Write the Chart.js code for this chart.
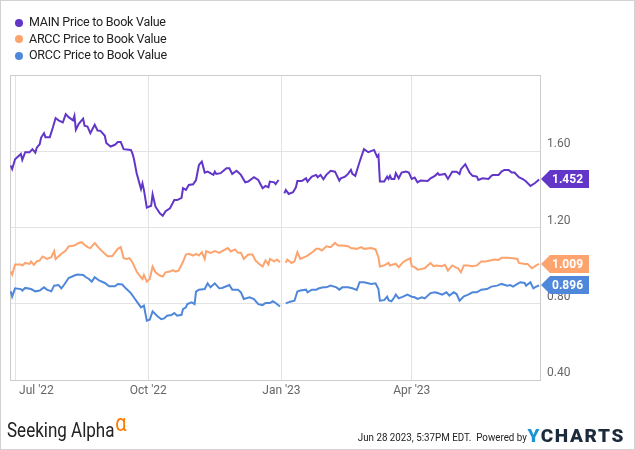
<!DOCTYPE html>
<html>
<head>
<meta charset="utf-8">
<script src="https://cdn.jsdelivr.net/npm/chart.js@4.4.1/dist/chart.umd.min.js"></script>
<style>
  html, body { margin: 0; padding: 0; background: #fff; }
  #wrap { position: relative; width: 635px; height: 450px; overflow: hidden; font-family: Roboto, sans-serif; }
  #wrap canvas { position: absolute; left: 0; top: 0; }
  #frame { position: absolute; left: 0; top: 0; width: 633px; height: 448px; border: 1px solid #d2d2d2; pointer-events: none; }
  #legend { position: absolute; left: 15px; top: 14px; font-size: 12.5px; letter-spacing: -0.25px; color: #222; }
  #legend div { height: 16.5px; line-height: 16.5px; white-space: nowrap; }
  #legend i { display: inline-block; width: 8px; height: 8px; border-radius: 50%; margin-right: 6px; vertical-align: -0.5px; }
  #sa { position: absolute; left: 7px; top: 418px; font-size: 20.5px; color: #222; white-space: nowrap; transform: scaleX(0.83); transform-origin: left top; }
  #sa sup { color: #ff7a00; font-size: 24px; line-height: 0; position: relative; top: 2px; margin-left: 1px; }
  #stamp { position: absolute; right: 108px; top: 430px; font-size: 11.5px; color: #222; white-space: nowrap; transform: scaleX(0.85); transform-origin: right top; }
  #yc { position: absolute; right: 10px; top: 424px; font-size: 19px; font-weight: 900; letter-spacing: 1.6px; color: #1c2b3c; white-space: nowrap; }
  #yc b { color: #1c93d6; font-weight: 900; }
</style>
</head>
<body>
<div id="wrap">
  <canvas id="chart" width="635" height="450"></canvas>
  <div id="legend"></div>
  <div id="sa">Seeking Alpha<sup>α</sup></div>
  <div id="stamp">Jun 28 2023, 5:37PM EDT.&nbsp; Powered by</div>
  <div id="yc"><b>Y</b>CHARTS</div>
  <div id="frame"></div>
</div>
<script>
  // Jours depuis le 1er juillet 2022 ; null = trou des fêtes de fin d'année.
  const tickDays = [0, 92, 184, 274];
  const tickLabels = ["Jul '22", "Oct '22", "Jan '23", "Apr '23"];
  const yTicks = [0.4, 0.8, 1.2, 1.6];

  const seriesNames = ["MAIN Price to Book Value", "ARCC Price to Book Value", "ORCC Price to Book Value"];
  const seriesColors = ["#6236c8", "#fda46e", "#4f87db"];

  const mainDays = [-3,-2,0,4,5,7,10,12,14,15,17,18,20,21,24,26,28,30,33,35,37,40,41,42,44,47,48,50,52,55,
    57,59,62,63,66,69,71,73,75,80,81,82,84,87,88,89,91,94,95,97,100,102,104,107,110,112,115,116,118,120,
    123,125,127,129,131,133,137,138,139,142,146,148,150,153,156,159,161,165,168,171,173,175,176,179,180,182,184,186,187,189,
    192,194,195,198,201,202,205,208,209,211,213,215,218,221,224,225,228,230,232,233,235,238,241,244,248,250,251,252,255,257,
    258,259,260,262,263,265,267,270,272,274,276,278,280,285,287,290,292,293,297,299,302,305,307,308,311,314,316,319,320,323,
    327,329,330,334,336,338,341,343,345,348,351,353,356,359,362];
  const mainPB = [1.525,1.507,1.558,1.586,1.555,1.595,1.595,1.611,1.593,1.619,1.637,1.672,1.695,1.674,1.674,1.722,1.774,1.762,1.751,1.795,
    1.779,1.762,1.786,1.713,1.744,1.771,1.734,1.730,1.695,1.739,1.709,1.707,1.681,1.643,1.625,1.634,1.648,1.648,1.611,1.607,
    1.590,1.564,1.485,1.402,1.432,1.397,1.304,1.314,1.374,1.309,1.274,1.262,1.286,1.301,1.344,1.344,1.356,1.406,1.397,1.423,
    1.427,1.449,1.528,1.546,1.488,1.493,1.476,1.493,1.481,1.485,1.511,1.511,1.481,1.498,1.476,1.437,1.441,1.464,1.449,1.406,
    1.418,1.411,1.441,1.437,1.428,1.449,null,1.379,1.397,1.376,1.385,1.411,1.444,1.444,1.458,1.441,1.467,1.476,1.464,1.476,
    1.453,1.476,1.497,1.493,1.446,1.458,1.467,1.481,1.502,1.481,1.471,1.545,1.611,1.595,1.607,1.572,1.581,1.441,1.441,1.467,
    1.455,1.471,1.455,1.455,1.485,1.458,1.488,1.493,1.488,1.455,1.462,1.437,1.446,1.444,1.458,1.471,1.485,1.476,1.481,1.455,
    1.493,1.493,1.481,1.506,1.532,1.488,1.471,1.467,1.449,1.458,1.455,1.471,1.476,1.476,1.493,1.502,1.502,1.488,1.488,1.464,
    1.453,1.441,1.418,1.432,1.452];

  const arccDays = [-3,-2,0,4,5,7,10,11,13,15,17,19,22,25,27,28,32,35,37,41,44,46,48,50,52,55,58,62,64,67,
    71,73,75,77,79,81,84,86,88,89,91,93,95,97,100,102,104,107,109,111,113,116,118,120,123,125,127,129,131,132,
    135,138,141,143,147,149,152,154,156,158,161,164,166,169,171,173,175,176,179,181,183,184,187,188,191,193,195,197,201,202,
    206,208,210,212,215,218,221,223,226,230,232,236,239,241,246,249,251,252,255,258,259,261,263,265,268,270,273,274,276,278,
    281,283,285,287,289,291,295,297,299,302,304,306,308,310,313,316,319,322,325,328,331,334,336,340,344,347,348,352,354,357,
    360,362];
  const arccPB = [0.969,0.953,1.006,1.006,1.001,1.014,1.009,1.022,1.004,1.022,1.027,1.048,1.035,1.044,1.076,1.035,1.062,1.079,1.101,1.106,
    1.119,1.123,1.109,1.097,1.092,1.118,1.092,1.062,1.049,1.049,1.088,1.097,1.039,1.035,1.039,1.018,0.969,0.948,0.930,0.951,
    0.916,0.930,0.995,0.965,0.948,0.943,0.965,0.969,0.977,0.969,0.975,1.020,1.058,1.062,1.053,1.062,1.053,1.071,1.035,1.076,
    1.067,1.076,1.067,1.076,1.092,1.074,1.085,1.067,1.067,1.035,1.058,1.058,1.027,1.006,0.995,1.027,1.006,1.035,1.022,1.032,
    1.018,null,1.014,1.032,1.014,1.022,1.071,1.035,1.049,1.053,1.074,1.088,1.088,1.079,1.101,1.097,1.119,1.106,1.106,1.102,
    1.092,1.088,1.097,1.088,1.092,1.085,1.044,0.995,1.001,1.014,1.001,1.006,1.009,0.992,1.018,1.027,1.039,0.997,0.992,0.979,
    0.983,0.986,1.001,1.013,0.997,1.001,0.997,1.004,0.974,1.001,0.992,0.986,0.965,1.001,1.001,0.997,1.001,1.022,1.022,1.027,
    1.032,1.030,1.041,1.041,1.039,1.035,1.014,1.009,1.009,0.986,1.001,1.009];

  const orccDays = [-3,-2,0,4,5,7,11,14,17,20,22,25,27,30,32,34,37,41,43,47,49,51,53,55,58,62,65,69,71,74,
    77,80,82,85,87,89,91,93,95,98,101,103,105,108,110,112,115,116,118,119,122,124,125,127,131,133,135,138,141,143,
    148,150,154,156,158,162,165,168,171,173,176,178,180,183,184,187,190,193,195,197,201,202,205,208,210,213,215,218,222,224,
    226,230,233,236,238,241,246,249,251,252,255,257,258,260,262,263,265,268,271,274,276,278,281,283,287,290,292,295,298,300,
    303,305,307,310,313,316,319,322,326,329,333,336,340,342,344,347,349,352,353,356,358,360,362];
  const orccPB = [0.865,0.837,0.881,0.877,0.869,0.883,0.877,0.865,0.869,0.886,0.874,0.865,0.895,0.898,0.881,0.901,0.935,0.948,0.953,0.951,
    0.939,0.930,0.916,0.939,0.922,0.909,0.892,0.892,0.904,0.901,0.877,0.856,0.834,0.802,0.781,0.790,0.711,0.716,0.760,0.737,
    0.719,0.723,0.737,0.741,0.751,0.737,0.742,0.772,0.781,0.798,0.807,0.798,0.864,0.874,0.877,0.907,0.886,0.907,0.881,0.883,
    0.898,0.874,0.874,0.860,0.825,0.834,0.825,0.798,0.793,0.804,0.804,0.813,0.804,0.786,null,0.802,0.811,0.816,0.864,0.869,
    0.874,0.860,0.874,0.874,0.881,0.886,0.886,0.895,0.886,0.874,0.886,0.886,0.881,0.872,0.913,0.913,0.904,0.907,0.877,0.816,
    0.819,0.837,0.819,0.813,0.834,0.848,0.828,0.837,0.848,0.837,0.834,0.825,0.834,0.828,0.856,0.860,0.856,0.848,0.860,0.843,
    0.860,0.851,0.816,0.839,0.848,0.860,0.860,0.874,0.877,0.890,0.895,0.904,0.895,0.898,0.890,0.904,0.913,0.909,0.895,0.913,
    0.881,0.890,0.896];

  const GRID = "#e3e3e3";
  const FRAME = "#cdcdcd";
  const TICK = "#666";

  const pts = (d, v) => d.map((x, i) => ({ x, y: v[i] }));
  const seriesData = [pts(mainDays, mainPB), pts(arccDays, arccPB), pts(orccDays, orccPB)];

  // Légende en HTML (trois lignes, pastille ronde).
  document.getElementById("legend").innerHTML = seriesNames
    .map((n, i) => `<div><i style="background:${seriesColors[i]}"></i>${n}</div>`).join("");

  // Cadre de la zone de tracé, libellés des mois, étiquettes de dernière valeur.
  const decor = {
    id: "decor",
    beforeDatasetsDraw(chart) {
      const { ctx, chartArea: a } = chart;
      ctx.save();
      ctx.strokeStyle = FRAME; ctx.lineWidth = 1;
      ctx.strokeRect(Math.round(a.left) + 0.5, Math.round(a.top) + 0.5, Math.round(a.right - a.left), Math.round(a.bottom - a.top));
      ctx.restore();
    },
    afterDraw(chart) {
      const { ctx, chartArea: a } = chart;
      const xs = chart.scales.x, ys = chart.scales.y;
      ctx.save();
      ctx.font = "12px Roboto, sans-serif";
      ctx.fillStyle = TICK; ctx.textBaseline = "middle";
      tickDays.forEach((d, i) => {
        const px = xs.getPixelForValue(d);
        ctx.textAlign = i === 0 ? "left" : "center";
        ctx.fillText(tickLabels[i], i === 0 ? px + 4 : px, a.bottom + 11);
      });
      chart.data.datasets.forEach((ds) => {
        const last = ds.data[ds.data.length - 1];
        const py = Math.round(ys.getPixelForValue(last.y));
        const x0 = a.right + 1, x1 = x0 + 9, x2 = x0 + 48, h = 9;
        ctx.fillStyle = ds.borderColor;
        ctx.beginPath();
        ctx.moveTo(x0, py); ctx.lineTo(x1, py - h); ctx.lineTo(x2, py - h);
        ctx.lineTo(x2, py + h); ctx.lineTo(x1, py + h); ctx.closePath(); ctx.fill();
        ctx.fillStyle = "#fff"; ctx.font = "bold 12px Roboto, sans-serif";
        ctx.textAlign = "left"; ctx.textBaseline = "middle";
        ctx.fillText(last.y.toFixed(3), x1 + 2, py + 0.5);
      });
      ctx.restore();
    },
  };

  new Chart(document.getElementById("chart"), {
    type: "line",
    data: {
      datasets: seriesData.map((data, i) => ({
        label: seriesNames[i], data, borderColor: seriesColors[i], backgroundColor: seriesColors[i],
        borderWidth: 2, pointRadius: 0, tension: 0, spanGaps: false,
      })),
    },
    options: {
      responsive: false, animation: false,
      layout: { padding: { left: 10, top: 75, right: 0, bottom: 70 } },
      plugins: { legend: { display: false }, tooltip: { enabled: false } },
      scales: {
        x: {
          type: "linear", min: -3.5, max: 362.6,
          afterBuildTicks: (s) => { s.ticks = tickDays.map((value) => ({ value })); },
          afterFit: (s) => { s.height = 0; },
          grid: { color: GRID, drawTicks: false },
          border: { display: false },
          ticks: { display: false },
        },
        y: {
          position: "right", min: 0.4, max: 2.0,
          afterBuildTicks: (s) => { s.ticks = yTicks.map((value) => ({ value })); },
          afterFit: (s) => { s.width = 95; },
          grid: { color: GRID, drawTicks: false },
          border: { display: false },
          ticks: {
            color: TICK, font: { size: 12, family: "Roboto, sans-serif" }, padding: 7, labelOffset: -7,
            callback: (v) => v.toFixed(2),
          },
        },
      },
    },
    plugins: [decor],
  });
</script>
</body>
</html>
